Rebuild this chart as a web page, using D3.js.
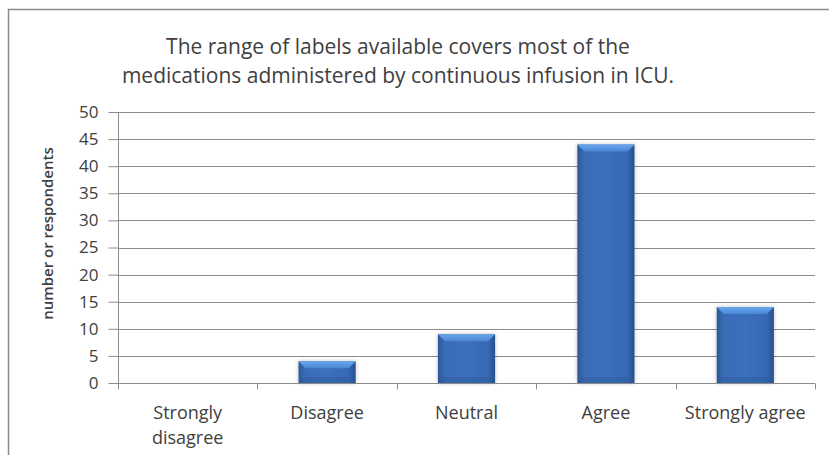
<!DOCTYPE html>
<html>
<head>
<meta charset="utf-8">
<script src="https://cdn.jsdelivr.net/npm/d3@7"></script>
<style>
  body { margin: 0; background: #fff; }
  text { font-family: "Open Sans", Lato, sans-serif; fill: #404040; }
</style>
</head>
<body>
<div id="chart"></div>
<script>
const width = 829
const height = 455

// data
const categories = ["Strongly disagree", "Disagree", "Neutral", "Agree", "Strongly agree"]
const respondents = [0, 4, 9, 44, 14]
const yTicks = [0, 5, 10, 15, 20, 25, 30, 35, 40, 45, 50]
const titleLines = ["The range of labels available covers most of the",
                    "medications administered by continuous infusion in ICU."]
const yLabel = "number or respondents"

const margin = {left: 118, right: 14, top: 112, bottom: 72}

let svg = d3.select("#chart")
            .append("svg")
            .attr("width", width)
            .attr("height", height)

// outer chart border (runs off the right/bottom edge)
svg.append("rect")
   .attr("x", 8.5).attr("y", 9.5)
   .attr("width", 840).attr("height", 470)
   .attr("fill", "none")
   .attr("stroke", "#8a8a8a")
   .attr("stroke-width", 1.5)

let x = d3.scaleBand()
  .domain(categories)
  .range([margin.left, width - margin.right])
  .paddingInner(0.59)
  .paddingOuter(0.295)

let y = d3.scaleLinear()
  .domain([0, 50])
  .range([height - margin.bottom, margin.top])

// gradients for the bevelled bars
let defs = svg.append("defs")
let g1 = defs.append("linearGradient").attr("id", "barGrad")
  .attr("x1", 0).attr("x2", 1).attr("y1", 0).attr("y2", 0)
g1.append("stop").attr("offset", "0%").attr("stop-color", "#2b5894")
g1.append("stop").attr("offset", "12%").attr("stop-color", "#3a6cb6")
g1.append("stop").attr("offset", "50%").attr("stop-color", "#3b6fbd")
g1.append("stop").attr("offset", "88%").attr("stop-color", "#3669b3")
g1.append("stop").attr("offset", "100%").attr("stop-color", "#24508a")

let g2 = defs.append("linearGradient").attr("id", "topGrad")
  .attr("x1", 0).attr("x2", 0).attr("y1", 0).attr("y2", 1)
g2.append("stop").attr("offset", "0%").attr("stop-color", "#6aa6ec")
g2.append("stop").attr("offset", "100%").attr("stop-color", "#4a86d4")

let f = defs.append("filter").attr("id", "shadow")
  .attr("x", "-20%").attr("y", "-20%").attr("width", "140%").attr("height", "140%")
f.append("feDropShadow").attr("dx", 0).attr("dy", 0).attr("stdDeviation", 2)
  .attr("flood-color", "#000").attr("flood-opacity", 0.25)

// gridlines
svg.append("g")
   .selectAll("line")
   .data(yTicks.filter(d => d > 0))
   .enter()
   .append("line")
   .attr("x1", margin.left).attr("x2", width - margin.right)
   .attr("y1", d => Math.round(y(d)) + 0.5).attr("y2", d => Math.round(y(d)) + 0.5)
   .attr("stroke", "#8c8c8c")
   .attr("stroke-width", 1)

// y axis
let yAxis = svg.append("g")
  .attr("transform", `translate(${margin.left + 0.5},0)`)
  .call(d3.axisLeft(y).tickValues(yTicks).tickSize(10).tickPadding(10))
yAxis.selectAll("path, line").attr("stroke", "#8c8c8c")
yAxis.select(".domain").attr("d", `M0,${y(50)}V${y(0)}`)
yAxis.selectAll("text").style("font-size", "17px").attr("fill", "#404040")

// bars
let bars = svg.append("g")
  .selectAll("g")
  .data(respondents.map((v, i) => ({cat: categories[i], v: v})).filter(d => d.v > 0))
  .enter()
  .append("g")

bars.append("rect")
    .attr("x", d => x(d.cat))
    .attr("y", d => y(d.v))
    .attr("width", x.bandwidth())
    .attr("height", d => y(0) - y(d.v))
    .attr("fill", "url(#barGrad)")
    .attr("filter", "url(#shadow)")

// top bevel
bars.append("path")
    .attr("d", d => {
      let x0 = x(d.cat), x1 = x0 + x.bandwidth(), t = y(d.v), b = 7
      return `M${x0},${t}H${x1}L${x1 - b},${t + b}H${x0 + b}Z`
    })
    .attr("fill", "url(#topGrad)")

// bottom bevel
bars.append("path")
    .attr("d", d => {
      let x0 = x(d.cat), x1 = x0 + x.bandwidth(), bt = y(0), b = 6
      return `M${x0},${bt}H${x1}L${x1 - b},${bt - b}H${x0 + b}Z`
    })
    .attr("fill", "#2a5591")
    .attr("opacity", 0.35)

// x axis
let xAxis = svg.append("g")
  .attr("transform", `translate(0,${Math.round(y(0)) + 0.5})`)
xAxis.append("line")
  .attr("x1", margin.left).attr("x2", width - margin.right)
  .attr("stroke", "#8c8c8c")
let step = x.step()
xAxis.selectAll("line.tick")
  .data(d3.range(categories.length + 1))
  .enter()
  .append("line")
  .attr("class", "tick")
  .attr("x1", i => Math.round(margin.left + i * step) + 0.5)
  .attr("x2", i => Math.round(margin.left + i * step) + 0.5)
  .attr("y1", 0).attr("y2", 6)
  .attr("stroke", "#8c8c8c")

// category labels, wrapping "Strongly disagree"
let labels = xAxis.selectAll("text.cat")
  .data(categories)
  .enter()
  .append("text")
  .attr("class", "cat")
  .attr("x", d => x(d) + x.bandwidth() / 2)
  .attr("y", 35)
  .attr("text-anchor", "middle")
  .style("font-size", "18px")
labels.each(function(d) {
  let words = d === "Strongly disagree" ? ["Strongly", "disagree"] : [d]
  d3.select(this).selectAll("tspan")
    .data(words)
    .enter()
    .append("tspan")
    .attr("x", x(d) + x.bandwidth() / 2)
    .attr("dy", (w, i) => i === 0 ? 0 : 25)
    .text(w => w)
})

// y axis title
svg.append("text")
   .attr("transform", `translate(53,${(y(0) + y(50)) / 2 - 14}) rotate(-90)`)
   .attr("text-anchor", "middle")
   .style("font-size", "15px")
   .style("font-weight", "600")
   .text(yLabel)

// chart title
svg.append("g")
   .selectAll("text")
   .data(titleLines)
   .enter()
   .append("text")
   .attr("x", 398)
   .attr("y", (d, i) => 54 + i * 29)
   .attr("text-anchor", "middle")
   .style("font-size", "21px")
   .text(d => d)
</script>
</body>
</html>
